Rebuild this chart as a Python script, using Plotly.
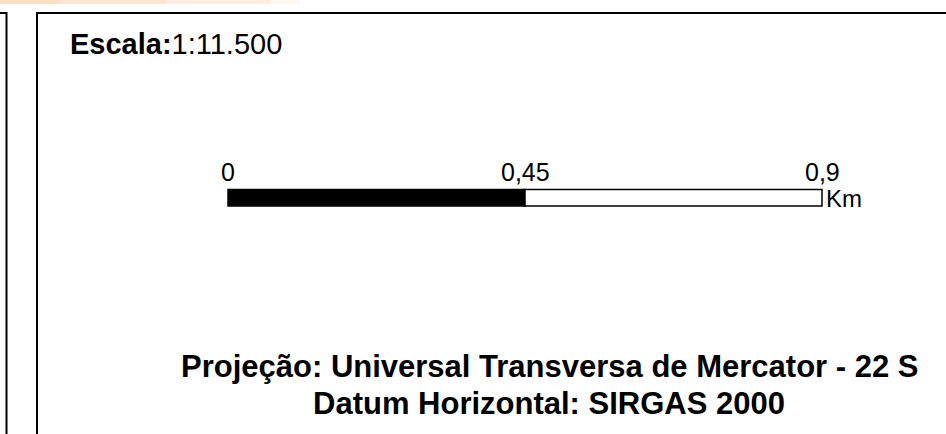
import plotly.graph_objects as go

# ---- data ----
scale_ticks = [0, 0.45, 0.9]            # km
scale_labels = ["0", "0,45", "0,9"]
scale_unit = "Km"
scale_title_bold = "Escala:"
scale_ratio = "1:11.500"
proj_lines = ["Projeção: Universal Transversa de Mercator - 22 S",
              "Datum Horizontal: SIRGAS 2000"]

W, H = 946, 434
PX0, PX1 = 228, 822                     # pixel positions of 0 and 0.9 km
ppk = (PX1 - PX0) / (scale_ticks[-1] - scale_ticks[0])
xr = [scale_ticks[0] - PX0 / ppk, scale_ticks[0] + (W - PX0) / ppk]

FONT = "Liberation Sans, Arial, sans-serif"

fig = go.Figure()
fig.add_trace(go.Scatter(x=[scale_ticks[0]], y=[0], mode="markers",
                         marker=dict(opacity=0), hoverinfo="skip", showlegend=False))

shapes = []
# faint peach header band (top-left)
band = [(0, 60, "#FEDFC3"), (60, 165, "#FEE6D2"), (165, 270, "#FFEEDF"), (270, 300, "#FFF6EF")]
for a, b, c in band:
    shapes.append(dict(type="rect", xref="paper", yref="y", x0=a / W, x1=b / W, y0=0, y1=4,
                       fillcolor=c, line=dict(width=0), layer="below"))
# left panel border (only its right edge and top visible)
shapes.append(dict(type="path", xref="paper", yref="y",
                   path=f"M 0 13 L {6.5/W} 13 L {6.5/W} 440",
                   line=dict(color="black", width=2)))
# main panel border
shapes.append(dict(type="path", xref="paper", yref="y",
                   path=f"M {37/W} 440 L {37/W} 13 L {960/W} 13",
                   line=dict(color="black", width=2)))

# scale bar segments
y0b, y1b = 189.5, 206
for i in range(len(scale_ticks) - 1):
    shapes.append(dict(type="rect", xref="x", yref="y",
                       x0=scale_ticks[i], x1=scale_ticks[i + 1], y0=y0b, y1=y1b,
                       fillcolor="black" if i % 2 == 0 else "white",
                       line=dict(color="black", width=1.5)))

annotations = []
for t, lab in zip(scale_ticks, scale_labels):
    annotations.append(dict(x=t, y=172, xref="x", yref="y", text=lab, showarrow=False,
                            xanchor="center", yanchor="middle",
                            font=dict(family=FONT, size=25, color="black")))
annotations.append(dict(x=scale_ticks[-1], y=198, xref="x", yref="y", text=scale_unit,
                        showarrow=False, xanchor="left", yanchor="middle", xshift=2,
                        font=dict(family=FONT, size=24, color="black")))
annotations.append(dict(x=68 / W, y=44, xref="paper", yref="y",
                        text=f"<b>{scale_title_bold}</b>{scale_ratio}", showarrow=False,
                        xanchor="left", yanchor="middle",
                        font=dict(family=FONT, size=29, color="black")))
for k, line in enumerate(proj_lines):
    annotations.append(dict(x=549 / W, y=366 + 37 * k, xref="paper", yref="y",
                            text=f"<b>{line}</b>", showarrow=False,
                            xanchor="center", yanchor="middle",
                            font=dict(family=FONT, size=31, color="black")))

fig.update_layout(
    width=W, height=H, margin=dict(l=0, r=0, t=0, b=0),
    paper_bgcolor="white", plot_bgcolor="white",
    xaxis=dict(range=xr, visible=False, fixedrange=True),
    yaxis=dict(range=[H, 0], visible=False, fixedrange=True),
    shapes=shapes, annotations=annotations, showlegend=False,
)
fig.write_html("out.html", config={"displayModeBar": False},
               post_script="document.body.style.margin='0';document.body.style.overflow='hidden';")
